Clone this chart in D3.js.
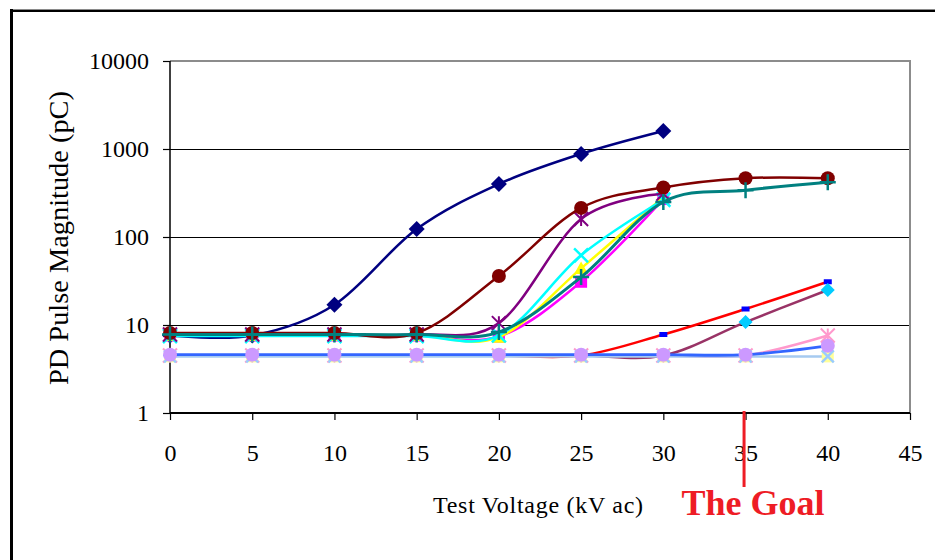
<!DOCTYPE html>
<html><head><meta charset="utf-8">
<script src="https://cdn.jsdelivr.net/npm/d3@7"></script>
<style>body{margin:0;background:#fff}svg{display:block}</style>
</head><body><svg id="c" width="935" height="560"></svg>
<script>
// ---------- data ----------
const voltages = [0, 5, 10, 15, 20, 25, 30, 35, 40];
const xTickValues = [0, 5, 10, 15, 20, 25, 30, 35, 40, 45];
const yTickValues = [1, 10, 100, 1000, 10000];

const navyDiamond   = [7.6, 7.6, 17, 123, 400, 880, 1600, null, null];
const magentaSquare = [7.6, 7.6, 7.6, 7.6, 7.4, 31, 270, null, null];
const yellowTri     = [7.6, 7.6, 7.6, 7.6, 7.3, 44, 285, null, null];
const cyanX         = [7.5, 7.5, 7.5, 7.5, 7.6, 62, 265, null, null];
const purpleStar    = [7.8, 7.8, 7.8, 7.8, 10.5, 160, 310, null, null];
const darkRedCircle = [8.1, 8.1, 8.1, 8.1, 36, 214, 365, 465, 465];
const tealPlus      = [7.8, 7.8, 7.8, 7.8, 8.3, 35, 250, 340, 420];
const redDash       = [4.5, 4.5, 4.5, 4.5, 4.5, 4.5, 7.8, 15.2, 31];
const maroonDiamond = [4.5, 4.5, 4.5, 4.5, 4.5, 4.5, 4.5, 10.8, 25];
const pinkStar      = [4.5, 4.5, 4.5, 4.5, 4.5, 4.5, 4.5, 4.5, 7.6];
const paleX         = [4.4, 4.4, 4.4, 4.4, 4.4, 4.4, 4.4, 4.4, 4.4];
const blueCircle    = [4.6, 4.6, 4.6, 4.6, 4.6, 4.6, 4.6, 4.6, 5.8];

const yTitle = "PD Pulse Magnitude (pC)";
const xTitle = "Test Voltage (kV ac)";
const goalLabel = "The Goal";
const goalVoltage = 35;

// ---------- styles ----------
const series = [
  {v: navyDiamond,   line: "#000080", m: "diamond",  fill: "#000080", r: 8},
  {v: magentaSquare, line: "#FF00FF", m: "square",   fill: "#FF00FF", r: 6},
  {v: yellowTri,     line: "#FFFF00", m: "triangle", fill: "#FFFF00", r: 7},
  {v: cyanX,         line: "#00FFFF", m: "x",        fill: "#00FFFF", r: 7},
  {v: purpleStar,    line: "#800080", m: "star",     fill: "#800080", r: 7},
  {v: darkRedCircle, line: "#800000", m: "circle",   fill: "#800000", r: 7},
  {v: tealPlus,      line: "#008080", m: "plus",     fill: "#008080", r: 8, w: 3},
  {v: redDash,       line: "#FF0000", m: "dash",     fill: "#0000FF", r: 4},
  {v: maroonDiamond, line: "#993366", m: "diamond",  fill: "#00CCFF", r: 7},
  {v: pinkStar,      line: "#FF99CC", m: "star",     fill: "#FF99CC", r: 7},
  {v: paleX,         line: "#A6CAF0", m: "xbox",     fill: "#FFFF99", stroke2: "#99CCFF", r: 6},
  {v: blueCircle,    line: "#3366FF", m: "circle",   fill: "#CC99FF", r: 7, w: 2.8}
];

const svg = d3.select("#c");
const font = "'Liberation Serif','Times New Roman',serif";

// outer frame
svg.append("line").attr("x1", 11).attr("x2", 935).attr("y1", 9.5).attr("y2", 9.5).attr("stroke", "#8a8a8a").attr("stroke-width", 1);
svg.append("line").attr("x1", 11).attr("x2", 935).attr("y1", 11).attr("y2", 11).attr("stroke", "#000").attr("stroke-width", 2);
svg.append("line").attr("x1", 11.5).attr("x2", 11.5).attr("y1", 9).attr("y2", 560).attr("stroke", "#000").attr("stroke-width", 3);

const L = 170, R = 910, T = 61, B = 413;
const x = d3.scaleLinear().domain([0, 45]).range([L, R]);
const y = d3.scaleLog().domain([1, 10000]).range([B, T]);

// gridlines
svg.append("g").attr("shape-rendering", "crispEdges").selectAll("line").data(yTickValues.filter(d => d > 1 && d < 10000)).join("line")
  .attr("x1", L).attr("x2", R).attr("y1", d => y(d) + 0.5).attr("y2", d => y(d) + 0.5)
  .attr("stroke", "#000").attr("stroke-width", 1);
// plot border (top/right gray)
svg.append("line").attr("x1", L).attr("x2", R + 1).attr("y1", T).attr("y2", T).attr("stroke", "#8c8c8c").attr("stroke-width", 2);
svg.append("line").attr("x1", R).attr("x2", R).attr("y1", T).attr("y2", B).attr("stroke", "#8c8c8c").attr("stroke-width", 2);

// axes
const yAxis = svg.append("g").attr("transform", `translate(${L},0)`)
  .call(d3.axisLeft(y).tickValues(yTickValues).tickFormat(d3.format("d")).tickSize(7).tickPadding(14));
const xAxis = svg.append("g").attr("transform", `translate(0,${B})`)
  .call(d3.axisBottom(x).tickValues(xTickValues).tickFormat(d3.format("d")).tickSize(7).tickPadding(24));
[yAxis, xAxis].forEach(g => {
  g.select(".domain").remove();
  g.selectAll(".tick line").attr("stroke", "#000").attr("stroke-width", 1.2);
  g.selectAll(".tick text").attr("fill", "#000").style("font-family", font).style("font-size", "24px");
});
svg.append("line").attr("x1", L).attr("x2", L).attr("y1", T).attr("y2", B).attr("stroke", "#000").attr("stroke-width", 1.5);
svg.append("line").attr("x1", L).attr("x2", R).attr("y1", B).attr("y2", B).attr("stroke", "#000").attr("stroke-width", 2);

// series
const lineGen = d3.line().defined(d => d.v != null).x(d => x(d.x)).y(d => y(d.v)).curve(d3.curveCardinal.tension(0));
const plot = svg.append("g");
function marker(g, s, cx, cy) {
  const r = s.r;
  if (s.m === "diamond") {
    g.append("path").attr("d", `M${cx},${cy - r}L${cx + r},${cy}L${cx},${cy + r}L${cx - r},${cy}Z`).attr("fill", s.fill);
  } else if (s.m === "square") {
    g.append("rect").attr("x", cx - r).attr("y", cy - r).attr("width", 2 * r).attr("height", 2 * r).attr("fill", s.fill);
  } else if (s.m === "triangle") {
    g.append("path").attr("d", `M${cx},${cy - r}L${cx + r},${cy + r * 0.8}L${cx - r},${cy + r * 0.8}Z`).attr("fill", s.fill);
  } else if (s.m === "circle") {
    g.append("circle").attr("cx", cx).attr("cy", cy).attr("r", r).attr("fill", s.fill);
  } else if (s.m === "x") {
    g.append("path").attr("d", `M${cx - r},${cy - r}L${cx + r},${cy + r}M${cx - r},${cy + r}L${cx + r},${cy - r}`).attr("stroke", s.fill).attr("stroke-width", 2.5);
  } else if (s.m === "xbox") {
    g.append("rect").attr("x", cx - r).attr("y", cy - r).attr("width", 2 * r).attr("height", 2 * r).attr("fill", s.fill);
    g.append("path").attr("d", `M${cx - r},${cy - r}L${cx + r},${cy + r}M${cx - r},${cy + r}L${cx + r},${cy - r}`).attr("stroke", s.stroke2).attr("stroke-width", 2.5);
  } else if (s.m === "star") {
    g.append("path").attr("d", `M${cx - r},${cy - r}L${cx + r},${cy + r}M${cx - r},${cy + r}L${cx + r},${cy - r}M${cx},${cy - r}L${cx},${cy + r}`).attr("stroke", s.fill).attr("stroke-width", 2);
  } else if (s.m === "plus") {
    g.append("path").attr("d", `M${cx - r},${cy}L${cx + r},${cy}M${cx},${cy - r}L${cx},${cy + r}`).attr("stroke", s.fill).attr("stroke-width", 2.5);
  } else if (s.m === "dash") {
    g.append("rect").attr("x", cx - r).attr("y", cy - 2.5).attr("width", 2 * r).attr("height", 5).attr("fill", s.fill);
  }
}
series.forEach(s => {
  const pts = voltages.map((xv, i) => ({x: xv, v: s.v[i]}));
  const g = plot.append("g");
  g.append("path").attr("d", lineGen(pts)).attr("fill", "none").attr("stroke", s.line).attr("stroke-width", s.w || 2.5);
  pts.filter(p => p.v != null).forEach(p => marker(g, s, x(p.x), y(p.v)));
});

// titles
svg.append("text").attr("transform", `translate(68,238) rotate(-90)`).attr("text-anchor", "middle")
  .attr("textLength", 294).attr("lengthAdjust", "spacingAndGlyphs")
  .style("font-family", font).style("font-size", "27px").attr("fill", "#000").text(yTitle);
svg.append("text").attr("x", 538).attr("y", 513).attr("text-anchor", "middle")
  .attr("textLength", 210).attr("lengthAdjust", "spacing")
  .style("font-family", font).style("font-size", "24px").attr("fill", "#000").text(xTitle);

// goal
const goalRed = "#EE1C25";
svg.append("line").attr("x1", x(goalVoltage) - 1.5).attr("x2", x(goalVoltage) - 1.5).attr("y1", 411).attr("y2", 487)
  .attr("stroke", goalRed).attr("stroke-width", 3);
svg.append("text").attr("x", 753).attr("y", 515).attr("text-anchor", "middle")
  .style("font-family", font).style("font-size", "36px").style("font-weight", "bold").attr("fill", goalRed).text(goalLabel);
</script></body></html>
